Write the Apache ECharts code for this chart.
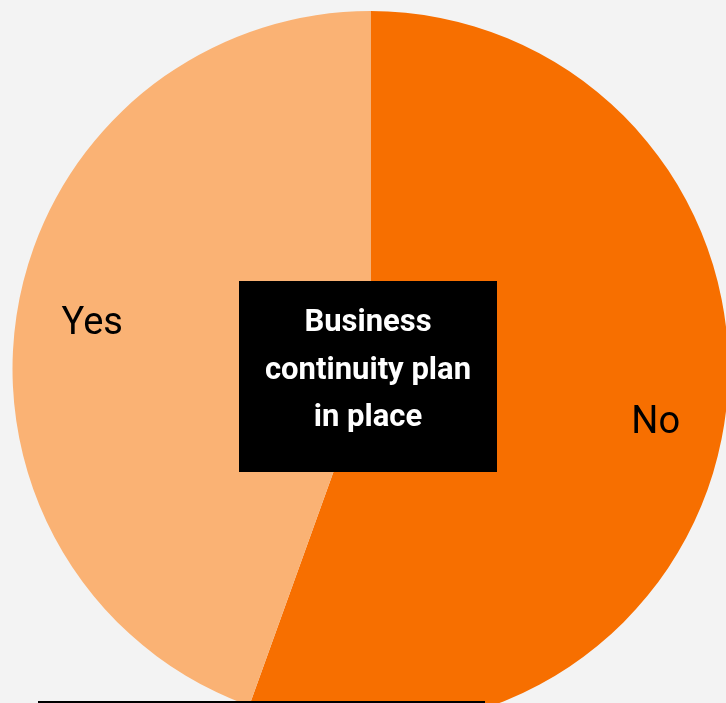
<!DOCTYPE html>
<html>
<head>
<meta charset="utf-8">
<script src="https://cdn.jsdelivr.net/npm/echarts@6/dist/echarts.min.js"></script>
<style>
html,body{margin:0;padding:0;background:#f3f3f3;}
#c{width:726px;height:703px;}
</style>
</head>
<body>
<div id="c"></div>
<script>
const categories = ['No', 'Yes'];
const values = [55.5, 44.5];
const colors = ['#f76f00', '#fab274'];
const centerTitle = 'Business\ncontinuity plan\nin place';

const chart = echarts.init(document.getElementById('c'));
const R = 358;
const data = categories.map((c, i) => ({ name: c, value: values[i], itemStyle: { color: colors[i] } }));
chart.setOption({
  backgroundColor: '#f3f3f3',
  animation: false,
  series: [
    {
      type: 'pie',
      center: [370.5, 369],
      radius: [0, R],
      startAngle: 90,
      clockwise: true,
      silent: true,
      label: { show: false },
      labelLine: { show: false },
      itemStyle: { borderWidth: 0 },
      data: data
    },
    {
      type: 'pie',
      center: [374, 374],
      radius: [208, R],
      startAngle: 90,
      clockwise: true,
      silent: true,
      z: 3,
      itemStyle: { color: 'rgba(0,0,0,0)', borderWidth: 0 },
      label: {
        show: true,
        position: 'inside',
        formatter: '{b}',
        color: '#000',
        fontFamily: 'Roboto',
        fontSize: 38,
        fontWeight: 'normal'
      },
      labelLine: { show: false },
      data: categories.map((c, i) => ({ name: c, value: values[i] }))
    }
  ],
  graphic: [
    { type: 'rect', z: 10, shape: { x: 239, y: 281, width: 258, height: 191 }, style: { fill: '#000' } },
    { type: 'text', z: 11, style: { text: centerTitle, x: 368, y: 371, align: 'center', verticalAlign: 'middle',
        fontFamily: 'Roboto', fontSize: 31, fontWeight: 'bold', lineHeight: 47.5, fill: '#fff' } },
    { type: 'line', z: 10, shape: { x1: 38, y1: 702, x2: 485, y2: 702 }, style: { stroke: '#000', lineWidth: 2 } }
  ]
});
</script>
</body>
</html>
